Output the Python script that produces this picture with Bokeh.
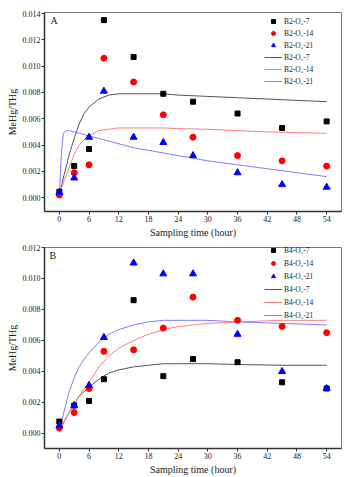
from bokeh.plotting import figure
from bokeh.layouts import column
from bokeh.models import (Legend, LegendItem, FixedTicker, PrintfTickFormatter,
                          Range1d, Label)
from bokeh.embed import file_html
from bokeh.resources import INLINE

# ---------------- data: panel A (B2) ----------------
times = [0, 3, 6, 9, 15, 21, 27, 36, 45, 54]
a_o7 = [0.00045, 0.0024, 0.0037, 0.0135, 0.0107, 0.0079, 0.0073, 0.0064, 0.0053, 0.0058]
a_o14 = [0.0002, 0.0019, 0.0025, 0.0106, 0.0088, 0.0063, 0.0046, 0.0032, 0.0028, 0.0024]
a_o21 = [0.0004, 0.0015, 0.0046, 0.0081, 0.0046, 0.0042, 0.0032, 0.0019, 0.0010, 0.0008]

a_fit_t = [0, 0.5, 1, 1.5, 2, 3, 4, 5, 6, 8, 10, 12, 15, 18, 21, 24, 30, 36, 42, 48, 54]
a_fit_o7 = [0.0002, 0.0010, 0.0018, 0.0025, 0.0033, 0.0045, 0.0056, 0.0064, 0.0069, 0.0075,
            0.0078, 0.0079, 0.0079, 0.0079, 0.0079, 0.0078, 0.0077, 0.0076, 0.0075, 0.0074, 0.0073]
a_fit_o14 = [0.0002, 0.0008, 0.0013, 0.0018, 0.0023, 0.0033, 0.0040, 0.0044, 0.0047, 0.0051,
             0.0052, 0.0053, 0.0053, 0.0053, 0.0053, 0.00525, 0.0052, 0.0051, 0.0050, 0.00495, 0.0049]
a_fit21_t = [0, 0.2, 0.4, 0.6, 0.8, 1.0, 1.3, 2, 3, 4, 6, 9, 12, 15, 18, 24, 30, 36, 42, 48, 54]
a_fit_o21 = [0.0000, 0.0018, 0.0032, 0.0042, 0.0048, 0.0050, 0.0051, 0.0051, 0.0050, 0.0049, 0.0047,
             0.0044, 0.0041, 0.0038, 0.0036, 0.0032, 0.0028, 0.0025, 0.0022, 0.0019, 0.0016]

# ---------------- data: panel B (B4) ----------------
b_o7 = [0.00077, 0.0018, 0.0021, 0.0035, 0.0086, 0.0037, 0.0048, 0.0046, 0.0033, 0.0029]
b_o14 = [0.00036, 0.00135, 0.0029, 0.0053, 0.0054, 0.0068, 0.0088, 0.0073, 0.0069, 0.0065]
b_o21 = [0.0005, 0.0018, 0.0031, 0.0062, 0.0110, 0.0103, 0.0103, 0.0064, 0.0040, 0.0029]

b_fit_t = [0, 1, 2, 3, 4, 5, 6, 8, 10, 12, 15, 18, 21, 24, 27, 30, 36, 45, 54]
b_fit_o7 = [0.0001, 0.0008, 0.0014, 0.0019, 0.0024, 0.0027, 0.0030, 0.0035, 0.0039, 0.0041,
            0.0043, 0.0044, 0.0045, 0.0045, 0.0045, 0.0045, 0.00445, 0.0044, 0.0044]
b_fit_o14 = [0.0002, 0.0008, 0.0014, 0.0019, 0.0024, 0.0029, 0.0033, 0.0043, 0.0050, 0.0055,
             0.0060, 0.0064, 0.0067, 0.0069, 0.0070, 0.0071, 0.0072, 0.0073, 0.0073]
b_fit_o21 = [0.0001, 0.0015, 0.0027, 0.0036, 0.0043, 0.0048, 0.0052, 0.0059, 0.0064, 0.0067,
             0.0070, 0.0072, 0.0073, 0.0073, 0.0073, 0.0073, 0.0072, 0.0071, 0.0070]

x_ticks = [0, 6, 12, 18, 24, 30, 36, 42, 48, 54]
a_y_ticks = [0.0, 0.002, 0.004, 0.006, 0.008, 0.010, 0.012, 0.014]
b_y_ticks = [0.0, 0.002, 0.004, 0.006, 0.008, 0.010, 0.012]

SERIF = "Liberation Serif"


def panel(height, bl, br, bt, bb, yr, yticks, s7, s14, s21, fits, names, tag, tag_pos, leg_loc, leg_spacing):
    p = figure(width=354, height=height, output_backend="svg", toolbar_location=None,
               x_range=Range1d(-3, 57), y_range=Range1d(*yr),
               min_border_left=bl, min_border_right=br, min_border_top=bt, min_border_bottom=bb)
    p.xgrid.visible = False
    p.ygrid.visible = False
    p.outline_line_color = "#777777"
    p.outline_line_width = 1
    for ax in (p.xaxis[0], p.yaxis[0]):
        ax.axis_line_color = "#333333"
        ax.axis_line_width = 1.5
        ax.major_tick_line_color = "#333333"
        ax.major_tick_out = 3
        ax.major_tick_in = 0
        ax.minor_tick_line_color = None
        ax.major_label_text_font = SERIF
        ax.major_label_text_font_size = "8px"
        ax.major_label_text_color = "#222222"
        ax.major_label_standoff = 1
        ax.axis_label_text_font = SERIF
        ax.axis_label_text_font_size = "10px"
        ax.axis_label_text_font_style = "normal"
        ax.axis_label_text_color = "#222222"
        ax.axis_label_standoff = 2
    p.xaxis.ticker = FixedTicker(ticks=x_ticks)
    p.yaxis.ticker = FixedTicker(ticks=yticks)
    p.yaxis.formatter = PrintfTickFormatter(format="%.3f")
    p.xaxis.axis_label = "Sampling time (hour)"
    p.yaxis.axis_label = "MeHg/THg"

    lines = []
    (t7, f7), (t14, f14), (t21, f21) = fits
    lines.append(p.line(t7, f7, line_color="#555555", line_width=1))
    lines.append(p.line(t14, f14, line_color="#ff7f7f", line_width=1))
    lines.append(p.line(t21, f21, line_color="#7f7fff", line_width=1))

    r7 = p.scatter(times, s7, marker="square", size=5, fill_color="black", line_color="black")
    r14 = p.scatter(times, s14, marker="circle", size=6, fill_color="red", line_color="red")
    r21 = p.scatter(times, s21, marker="triangle", size=7, fill_color="blue", line_color="blue")

    items = [LegendItem(label=names[0], renderers=[r7]),
             LegendItem(label=names[1], renderers=[r14]),
             LegendItem(label=names[2], renderers=[r21]),
             LegendItem(label=names[0], renderers=[lines[0]]),
             LegendItem(label=names[1], renderers=[lines[1]]),
             LegendItem(label=names[2], renderers=[lines[2]])]
    leg = Legend(items=items, location=leg_loc)
    leg.border_line_color = None
    leg.background_fill_alpha = 0
    leg.padding = 0
    leg.margin = 0
    leg.glyph_width = 18
    leg.glyph_height = 10
    leg.label_height = 10
    leg.label_standoff = 2
    leg.spacing = leg_spacing
    leg.label_text_font = SERIF
    leg.label_text_font_size = "7.5px"
    leg.label_text_color = "#222222"
    p.add_layout(leg)

    p.add_layout(Label(x=tag_pos[0], y=tag_pos[1], text=tag, text_font=SERIF,
                       text_font_size="10px", text_align="left", text_baseline="middle",
                       text_color="#222222"))
    return p


pA = panel(240, 44, 10, 12, 27, (-0.00105, 0.01408), a_y_ticks,
           a_o7, a_o14, a_o21,
           [(a_fit_t, a_fit_o7), (a_fit_t, a_fit_o14), (a_fit21_t, a_fit_o21)],
           ["B2-O\u2082-7", "B2-O\u2082-14", "B2-O\u2082-21"], "A", (-1.8, 0.01346),
           (220, 125), 2)
pB = panel(237, 39, 13, 7, 28, (-0.00097, 0.012), b_y_ticks,
           b_o7, b_o14, b_o21,
           [(b_fit_t, b_fit_o7), (b_fit_t, b_fit_o14), (b_fit_t, b_fit_o21)],
           ["B4-O\u2082-7", "B4-O\u2082-14", "B4-O\u2082-21"], "B", (-2.0, 0.01147),
           (220, 128), 3)

layout = column(pA, pB, spacing=0)
open("out.html", "w").write(file_html(layout, INLINE))
